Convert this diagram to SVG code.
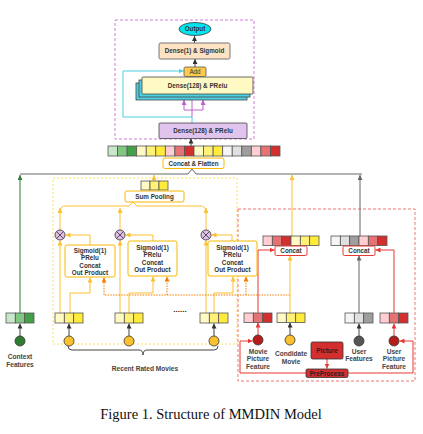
<svg xmlns="http://www.w3.org/2000/svg" width="423" height="434" viewBox="0 0 423 434">
<style>
text{font-family:"Liberation Sans","Open Sans",sans-serif;font-weight:bold;fill:#333;text-anchor:middle}
.t{font-size:6.3px}
.lab{font-size:6.6px;fill:#444}
.cap{font-family:"Liberation Serif","Times New Roman",serif;font-weight:normal;font-size:14.5px;fill:#111}
.cell{stroke:#555;stroke-width:0.8}
.box{fill:#fff;stroke:#f9b800;stroke-width:1}
.rbox{fill:#fff;stroke:#e53935;stroke-width:1}
.y{fill:none;stroke:#fbc02d;stroke-width:1}
.o{fill:none;stroke:#f57c00;stroke-width:1;stroke-dasharray:1.5 1.2}
.r{fill:none;stroke:#e53935;stroke-width:1}
.k{fill:none;stroke:#444;stroke-width:1}
.g{fill:none;stroke:#2e7d32;stroke-width:1}
.c{fill:none;stroke:#4dd0e1;stroke-width:1}
.p{fill:none;stroke:#c060d0;stroke-width:1}
.gr{fill:none;stroke:#666;stroke-width:1}
.dot{stroke:#333;stroke-width:0.8}
.mul{fill:#e1bee7;stroke:#333;stroke-width:0.8}
</style>
<defs>
<marker id="ak" markerUnits="userSpaceOnUse" markerWidth="5" markerHeight="5" refX="5" refY="2.5" orient="auto"><path d="M0,0 L5,2.5 L0,5 z" fill="#333"/></marker>
<marker id="ay" markerUnits="userSpaceOnUse" markerWidth="5" markerHeight="5" refX="5" refY="2.5" orient="auto"><path d="M0,0 L5,2.5 L0,5 z" fill="#fbc02d"/></marker>
<marker id="ao" markerUnits="userSpaceOnUse" markerWidth="5" markerHeight="5" refX="5" refY="2.5" orient="auto"><path d="M0,0 L5,2.5 L0,5 z" fill="#f57c00"/></marker>
<marker id="ar" markerUnits="userSpaceOnUse" markerWidth="5" markerHeight="5" refX="5" refY="2.5" orient="auto"><path d="M0,0 L5,2.5 L0,5 z" fill="#e53935"/></marker>
<marker id="ag" markerUnits="userSpaceOnUse" markerWidth="5" markerHeight="5" refX="5" refY="2.5" orient="auto"><path d="M0,0 L5,2.5 L0,5 z" fill="#2e7d32"/></marker>
<marker id="ac" markerUnits="userSpaceOnUse" markerWidth="5" markerHeight="5" refX="5" refY="2.5" orient="auto"><path d="M0,0 L5,2.5 L0,5 z" fill="#4dd0e1"/></marker>
<marker id="ap" markerUnits="userSpaceOnUse" markerWidth="5" markerHeight="5" refX="5" refY="2.5" orient="auto"><path d="M0,0 L5,2.5 L0,5 z" fill="#c060d0"/></marker>
<marker id="agr" markerUnits="userSpaceOnUse" markerWidth="5" markerHeight="5" refX="5" refY="2.5" orient="auto"><path d="M0,0 L5,2.5 L0,5 z" fill="#666"/></marker>
<g id="xmark"><circle class="mul" r="5"/><path d="M-3.5,-3.5 L3.5,3.5 M-3.5,3.5 L3.5,-3.5" stroke="#333" stroke-width="0.8"/></g>
</defs>
<rect width="423" height="434" fill="#fff"/>

<!-- group frames -->
<rect x="115" y="20" width="139" height="119" fill="none" stroke="#c060d0" stroke-width="0.8" stroke-dasharray="3 2"/>
<rect x="53" y="178" width="184" height="166" fill="none" stroke="#fdd835" stroke-width="0.8" stroke-dasharray="2 2"/>
<rect x="238" y="209" width="177" height="172" fill="none" stroke="#ef5350" stroke-width="0.8" stroke-dasharray="3 2"/>

<!-- connectors -->
<g id="connectors">
<line class="k" x1="194.5" y1="43" x2="194.5" y2="36" marker-end="url(#ak)"/>
<line class="k" x1="195" y1="67" x2="195" y2="59" marker-end="url(#ak)"/>
<path class="c" d="M192,123 V117 H123 V71 H183.5" marker-end="url(#ac)"/>
<path class="p" d="M192,117 V95" marker-end="url(#ap)"/>
<path class="p" d="M184,110 H203 M184,110 V100.5 M203,110 V100.5"/>
<path class="p" d="M184,104 V100" marker-end="url(#ap)"/>
<path class="p" d="M203,104 V100" marker-end="url(#ap)"/>
<line class="k" x1="191" y1="146" x2="191" y2="138.5" marker-end="url(#ak)"/>
<path class="gr" d="M20,174 H188 L192,169 L196,174 H362"/>
<line class="g" x1="20" y1="313" x2="20" y2="175" marker-end="url(#ag)"/>
<line class="y" x1="154" y1="181" x2="154" y2="175" marker-end="url(#ay)"/>
<line class="y" x1="292" y1="236" x2="292" y2="175" marker-end="url(#ay)"/>
<line class="gr" x1="360" y1="236" x2="360" y2="175" marker-end="url(#agr)"/>
<path class="y" d="M60,212 Q60,206 66,206 H129 L133,202 L137,206 H200 Q206,206 206,212"/>
<line class="y" x1="60" y1="230" x2="60" y2="208" marker-end="url(#ay)"/>
<line class="y" x1="120" y1="230" x2="120" y2="208" marker-end="url(#ay)"/>
<line class="y" x1="206" y1="230" x2="206" y2="208" marker-end="url(#ay)"/>
<path class="y" d="M90,245 V235 H65.5" marker-end="url(#ay)"/>
<path class="y" d="M153,241 V235 H125.5" marker-end="url(#ay)"/>
<path class="y" d="M232,241 V235 H211.5" marker-end="url(#ay)"/>
<line class="y" x1="60" y1="313" x2="60" y2="240.5" marker-end="url(#ay)"/>
<line class="y" x1="120" y1="313" x2="120" y2="240.5" marker-end="url(#ay)"/>
<line class="y" x1="206" y1="313" x2="206" y2="240.5" marker-end="url(#ay)"/>
<path class="y" d="M70,313 V293 H90 V277.5" marker-end="url(#ay)"/>
<path class="y" d="M129,313 V293 H153 V276.5" marker-end="url(#ay)"/>
<path class="y" d="M214,313 V293 H233 V276.5" marker-end="url(#ay)"/>
<path class="o" d="M290,295 H104"/>
<line class="o" x1="104" y1="295" x2="104" y2="277.5" marker-end="url(#ao)"/>
<line class="o" x1="167" y1="295" x2="167" y2="276.5" marker-end="url(#ao)"/>
<line class="o" x1="246" y1="295" x2="246" y2="276.5" marker-end="url(#ao)"/>
<line class="y" x1="290" y1="313" x2="290" y2="255.5" marker-end="url(#ay)"/>
<line class="gr" x1="359" y1="313" x2="359" y2="255.5" marker-end="url(#agr)"/>
<path class="r" d="M258,313 V250 H274.5" marker-end="url(#ar)"/>
<path class="r" d="M394,313 V250 H375.5" marker-end="url(#ar)"/>
<line class="k" x1="20" y1="336" x2="20" y2="323.5" marker-end="url(#ak)"/>
<line class="k" x1="69" y1="336" x2="69" y2="323.5" marker-end="url(#ak)"/>
<line class="k" x1="129" y1="336" x2="129" y2="323.5" marker-end="url(#ak)"/>
<line class="k" x1="214" y1="336" x2="214" y2="323.5" marker-end="url(#ak)"/>
<line class="r" x1="258" y1="335" x2="258" y2="322.5" marker-end="url(#ar)"/>
<line class="k" x1="290" y1="335" x2="290" y2="322.5" marker-end="url(#ak)"/>
<line class="k" x1="359" y1="336" x2="359" y2="323.5" marker-end="url(#ak)"/>
<line class="r" x1="394" y1="336" x2="394" y2="323.5" marker-end="url(#ar)"/>
<line class="r" x1="327" y1="359" x2="327" y2="368.5" marker-end="url(#ar)"/>
<path class="r" d="M306,373 H240 V341 H252.5" marker-end="url(#ar)"/>
<path class="r" d="M348,373 H413 V341 H399.5" marker-end="url(#ar)"/>
<path fill="none" stroke="#444" stroke-width="1" d="M68,346 Q68,350 72,350 H139 Q143,350 143,355 Q143,350 147,350 H214 Q218,350 218,346"/>
</g>

<!-- top MLP -->
<g id="output"><ellipse cx="195" cy="29" rx="16" ry="6.5" fill="#00e5ee" stroke="#333" stroke-width="0.8"/><text class="t" x="195" y="31.3">Output</text></g>
<g id="dense1"><rect x="159" y="43" width="71" height="16" rx="1.5" fill="#fde3c4" stroke="#555" stroke-width="0.8"/><text class="t" x="194.5" y="53.3">Dense(1) &amp; Sigmoid</text></g>
<g id="dense128-stack">
<rect x="136" y="83" width="111" height="17" fill="#4dd0e1" stroke="#444" stroke-width="0.8"/>
<rect x="139" y="80" width="111" height="17" fill="#4dd0e1" stroke="#444" stroke-width="0.8"/>
<rect x="142" y="77" width="111" height="17" rx="1" fill="#fff9c4" stroke="#444" stroke-width="0.8"/>
<text class="t" x="197.5" y="87.8">Dense(128) &amp; PRelu</text>
</g>
<g id="add"><rect x="184" y="67" width="22" height="9.5" rx="1.5" fill="#ffc94a" stroke="#555" stroke-width="0.8"/><text class="t" x="195" y="74" style="font-weight:normal">Add</text></g>
<g id="dense128-bottom"><rect x="159" y="123" width="88" height="15.5" rx="1" fill="#e1c4ee" stroke="#444" stroke-width="0.8"/><text class="t" x="203" y="133">Dense(128) &amp; PRelu</text></g>

<!-- concat & flatten -->
<g id="concat-bar">
<rect class="cell" x="108" y="146" width="9.56" height="10" fill="#c8e6c9"/>
<rect class="cell" x="117.56" y="146" width="9.56" height="10" fill="#81c784"/>
<rect class="cell" x="127.11" y="146" width="9.56" height="10" fill="#43a047"/>
<rect class="cell" x="136.67" y="146" width="9.56" height="10" fill="#fff9c4"/>
<rect class="cell" x="146.22" y="146" width="9.56" height="10" fill="#fff176"/>
<rect class="cell" x="155.78" y="146" width="9.56" height="10" fill="#ffeb3b"/>
<rect class="cell" x="165.33" y="146" width="9.56" height="10" fill="#ffcdd2"/>
<rect class="cell" x="174.89" y="146" width="9.56" height="10" fill="#e57373"/>
<rect class="cell" x="184.44" y="146" width="9.56" height="10" fill="#d32f2f"/>
<rect class="cell" x="194" y="146" width="9.56" height="10" fill="#fff9c4"/>
<rect class="cell" x="203.56" y="146" width="9.56" height="10" fill="#fff176"/>
<rect class="cell" x="213.11" y="146" width="9.56" height="10" fill="#ffeb3b"/>
<rect class="cell" x="222.67" y="146" width="9.56" height="10" fill="#f5f5f5"/>
<rect class="cell" x="232.22" y="146" width="9.56" height="10" fill="#e0e0e0"/>
<rect class="cell" x="241.78" y="146" width="9.56" height="10" fill="#9e9e9e"/>
<rect class="cell" x="251.33" y="146" width="9.56" height="10" fill="#ffcdd2"/>
<rect class="cell" x="260.89" y="146" width="9.56" height="10" fill="#e57373"/>
<rect class="cell" x="270.44" y="146" width="9.56" height="10" fill="#d32f2f"/>
</g>
<g id="concat-flatten"><rect class="box" x="163" y="158" width="61" height="10.5" rx="2"/><text class="t" x="193.5" y="165.5">Concat &amp; Flatten</text></g>

<!-- sum pooling -->
<g id="sum-bar">
<rect class="cell" x="141" y="181" width="9" height="9" fill="#fff9c4"/>
<rect class="cell" x="150" y="181" width="9" height="9" fill="#fff176"/>
<rect class="cell" x="159" y="181" width="9" height="9" fill="#ffeb3b"/>
</g>
<g id="sum-pooling"><rect class="box" x="125" y="191" width="59" height="11" rx="2"/><text class="t" x="154.5" y="198.8">Sum Pooling</text></g>

<!-- product units -->
<g id="mul1"><use href="#xmark" x="60" y="235"/></g>
<g id="mul2"><use href="#xmark" x="120" y="235"/></g>
<g id="mul3"><use href="#xmark" x="206" y="235"/></g>
<g id="act1"><rect class="box" x="65" y="245" width="50" height="32" rx="2"/>
<text class="t" x="90" y="252.5">Sigmoid(1)</text><text class="t" x="90" y="260">PRelu</text><text class="t" x="90" y="267.5">Concat</text><text class="t" x="90" y="275">Out Product</text></g>
<g id="act2"><rect class="box" x="128" y="241" width="49" height="35" rx="2"/>
<text class="t" x="152.5" y="249.5">Sigmoid(1)</text><text class="t" x="152.5" y="257">PRelu</text><text class="t" x="152.5" y="264.5">Concat</text><text class="t" x="152.5" y="272">Out Product</text></g>
<g id="act3"><rect class="box" x="208" y="241" width="49" height="35" rx="2"/>
<text class="t" x="232.5" y="249.5">Sigmoid(1)</text><text class="t" x="232.5" y="257">PRelu</text><text class="t" x="232.5" y="264.5">Concat</text><text class="t" x="232.5" y="272">Out Product</text></g>

<!-- concat nodes (right) -->
<g id="concat-movie">
<rect class="cell" x="263" y="236" width="9.33" height="9.5" fill="#ffcdd2"/>
<rect class="cell" x="272.33" y="236" width="9.33" height="9.5" fill="#e57373"/>
<rect class="cell" x="281.67" y="236" width="9.33" height="9.5" fill="#d32f2f"/>
<rect class="cell" x="291" y="236" width="9.33" height="9.5" fill="#fff9c4"/>
<rect class="cell" x="300.33" y="236" width="9.33" height="9.5" fill="#fff176"/>
<rect class="cell" x="309.67" y="236" width="9.33" height="9.5" fill="#ffeb3b"/>
<rect class="rbox" x="275" y="246" width="32" height="9.5" rx="1.5"/><text class="t" x="291" y="253">Concat</text>
</g>
<g id="concat-user">
<rect class="cell" x="331" y="236" width="9.33" height="9.5" fill="#f5f5f5"/>
<rect class="cell" x="340.33" y="236" width="9.33" height="9.5" fill="#e0e0e0"/>
<rect class="cell" x="349.67" y="236" width="9.33" height="9.5" fill="#9e9e9e"/>
<rect class="cell" x="359" y="236" width="9.33" height="9.5" fill="#ffcdd2"/>
<rect class="cell" x="368.33" y="236" width="9.33" height="9.5" fill="#e57373"/>
<rect class="cell" x="377.67" y="236" width="9.33" height="9.5" fill="#d32f2f"/>
<rect class="rbox" x="343" y="246" width="32" height="9.5" rx="1.5"/><text class="t" x="359" y="253">Concat</text>
</g>

<!-- inputs -->
<g id="context">
<rect class="cell" x="6" y="313" width="9.33" height="10" fill="#c8e6c9"/>
<rect class="cell" x="15.33" y="313" width="9.33" height="10" fill="#81c784"/>
<rect class="cell" x="24.67" y="313" width="9.33" height="10" fill="#43a047"/>
<circle class="dot" cx="20" cy="341" r="5" fill="#2e7d32"/>
<text class="lab" x="20" y="358.5">Context</text><text class="lab" x="20" y="366.5">Features</text>
</g>
<g id="movie1">
<rect class="cell" x="55" y="313" width="9.33" height="10" fill="#fff9c4"/>
<rect class="cell" x="64.33" y="313" width="9.33" height="10" fill="#fff176"/>
<rect class="cell" x="73.67" y="313" width="9.33" height="10" fill="#ffeb3b"/>
<circle class="dot" cx="69" cy="341" r="5" fill="#fbc02d"/>
</g>
<g id="movie2">
<rect class="cell" x="115" y="313" width="9.33" height="10" fill="#fff9c4"/>
<rect class="cell" x="124.33" y="313" width="9.33" height="10" fill="#fff176"/>
<rect class="cell" x="133.67" y="313" width="9.33" height="10" fill="#ffeb3b"/>
<circle class="dot" cx="129" cy="341" r="5" fill="#fbc02d"/>
</g>
<g id="ellipsis"><text x="180" y="312" style="font-size:8px;fill:#222">......</text></g>
<g id="movie3">
<rect class="cell" x="200" y="313" width="9.33" height="10" fill="#fff9c4"/>
<rect class="cell" x="209.33" y="313" width="9.33" height="10" fill="#fff176"/>
<rect class="cell" x="218.67" y="313" width="9.33" height="10" fill="#ffeb3b"/>
<circle class="dot" cx="214" cy="341" r="5" fill="#fbc02d"/>
</g>
<g id="recent-label"><text class="lab" x="145" y="370.5">Recent Rated Movies</text></g>
<g id="movie-picture">
<rect class="cell" x="244" y="313" width="9.33" height="9.5" fill="#ffcdd2"/>
<rect class="cell" x="253.33" y="313" width="9.33" height="9.5" fill="#e57373"/>
<rect class="cell" x="262.67" y="313" width="9.33" height="9.5" fill="#d32f2f"/>
<circle class="dot" cx="258" cy="340" r="5" fill="#b71c1c"/>
<text class="lab" x="258" y="353.5">Movie</text><text class="lab" x="258" y="361.3">Picture</text><text class="lab" x="258" y="369.1">Feature</text>
</g>
<g id="candidate">
<rect class="cell" x="277" y="313" width="9.33" height="9.5" fill="#fff9c4"/>
<rect class="cell" x="286.33" y="313" width="9.33" height="9.5" fill="#fff176"/>
<rect class="cell" x="295.67" y="313" width="9.33" height="9.5" fill="#ffeb3b"/>
<circle class="dot" cx="290" cy="340" r="5" fill="#fbc02d"/>
<text class="lab" x="291" y="355.5">Condidate</text><text class="lab" x="291" y="363.5">Movie</text>
</g>
<g id="picture"><rect x="311" y="342" width="32" height="17" rx="1.5" fill="#d32f2f" stroke="#333" stroke-width="0.8"/><text class="t" x="327" y="352.5" style="fill:#222">Picture</text></g>
<g id="preprocess"><rect x="306" y="369" width="42" height="8.5" rx="1.5" fill="#d32f2f" stroke="#333" stroke-width="0.8"/><text class="t" x="327" y="375.6" style="fill:#222">PreProcess</text></g>
<g id="user">
<rect class="cell" x="345" y="313" width="9.33" height="10" fill="#f5f5f5"/>
<rect class="cell" x="354.33" y="313" width="9.33" height="10" fill="#e0e0e0"/>
<rect class="cell" x="363.67" y="313" width="9.33" height="10" fill="#9e9e9e"/>
<circle class="dot" cx="359" cy="341" r="5" fill="#555"/>
<text class="lab" x="359" y="353.5">User</text><text class="lab" x="359" y="361.3">Features</text>
</g>
<g id="user-picture">
<rect class="cell" x="380" y="313" width="9.33" height="10" fill="#ffcdd2"/>
<rect class="cell" x="389.33" y="313" width="9.33" height="10" fill="#e57373"/>
<rect class="cell" x="398.67" y="313" width="9.33" height="10" fill="#d32f2f"/>
<circle class="dot" cx="394" cy="341" r="5" fill="#b71c1c"/>
<text class="lab" x="394" y="353.5">User</text><text class="lab" x="394" y="361.3">Picture</text><text class="lab" x="394" y="369.1">Feature</text>
</g>
<text class="cap" x="211" y="419">Figure 1. Structure of MMDIN Model</text>
</svg>
